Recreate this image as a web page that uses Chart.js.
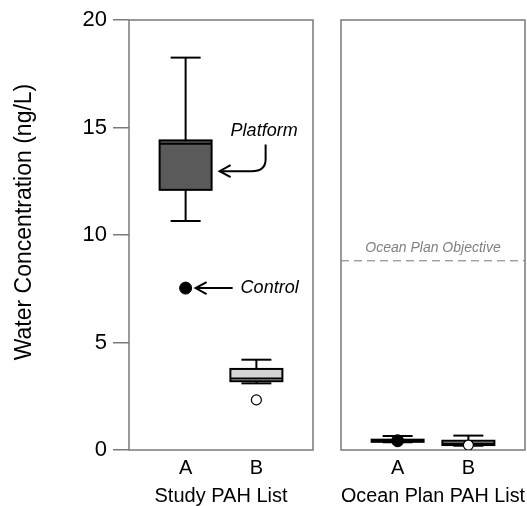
<!DOCTYPE html>
<html lang="en">
<head>
<meta charset="UTF-8">
<title>Water Concentration</title>
<script src="https://cdn.jsdelivr.net/npm/chart.js@4.4.0/dist/chart.umd.min.js"></script>
<style>
    body { margin: 0; background: #fff; }
    #marco { position: relative; width: 527px; height: 506px; }
    canvas { position: absolute; top: 0; }
    #izq { left: 0; }
    #der { left: 320px; }
</style>
</head>
<body>
<div id="marco">
    <canvas id="izq" width="320" height="506"></canvas>
    <canvas id="der" width="207" height="506"></canvas>
</div>
<script>
    // datos
    const categorias = ['A', 'B'];
    const titulosX = ['Study PAH List', 'Ocean Plan PAH List'];
    const tituloY = 'Water Concentration (ng/L)';
    const ticksY = [0, 5, 10, 15, 20];
    // [bigote inf, q1, mediana, q3, bigote sup]
    const cajasEstudio = [[10.65, 12.1, 14.25, 14.4, 18.25], [3.1, 3.2, 3.33, 3.77, 4.2]];
    const controlEstudio = [7.53, 2.33];
    const cajasOceano = [[0.36, 0.38, 0.43, 0.48, 0.65], [0.2, 0.23, 0.3, 0.43, 0.67]];
    const controlOceano = [0.43, 0.23];
    const objetivoOceano = 8.8;

    const fuente = "'Liberation Sans', Arial, Helvetica, sans-serif";
    const rellenos = ['#5a5a5a', '#d4d4d4'];

    function linea(ctx, x1, y1, x2, y2) {
        ctx.beginPath();
        ctx.moveTo(x1, y1);
        ctx.lineTo(x2, y2);
        ctx.stroke();
    }

    function flecha(ctx, x, y) {
        // punta abierta mirando a la izquierda
        ctx.beginPath();
        ctx.moveTo(x + 11, y - 6);
        ctx.lineTo(x, y);
        ctx.lineTo(x + 11, y + 6);
        ctx.stroke();
    }

    function dibujarCajas(chart, cajas) {
        const ctx = chart.ctx;
        const sx = chart.scales.x, sy = chart.scales.y;
        ctx.save();
        ctx.strokeStyle = '#000';
        ctx.lineWidth = 2;
        cajas.forEach((caja, i) => {
            const cx = sx.getPixelForValue(i + 1);
            const [bajo, q1, med, q3, alto] = caja.map(v => sy.getPixelForValue(v));
            linea(ctx, cx, alto, cx, q3);
            linea(ctx, cx, bajo, cx, q1);
            linea(ctx, cx - 15, alto, cx + 15, alto);
            linea(ctx, cx - 15, bajo, cx + 15, bajo);
            ctx.fillStyle = rellenos[i];
            ctx.fillRect(cx - 26, q3, 52, q1 - q3);
            ctx.strokeRect(cx - 26, q3, 52, q1 - q3);
            linea(ctx, cx - 26, med, cx + 26, med);
        });
        ctx.restore();
    }

    function dibujarMarco(chart) {
        const {ctx, chartArea: a} = chart;
        ctx.save();
        ctx.strokeStyle = '#7a7a7a';
        ctx.lineWidth = 1.5;
        ctx.strokeRect(a.left, a.top, a.right - a.left, a.bottom - a.top);
        ctx.restore();
    }

    const pluginIzq = {
        id: 'cajasIzq',
        beforeDatasetsDraw(chart) {
            dibujarMarco(chart);
            dibujarCajas(chart, cajasEstudio);
        },
        afterDraw(chart) {
            const {ctx, chartArea: a} = chart;
            const sx = chart.scales.x, sy = chart.scales.y;
            ctx.save();
            // titulo del eje y
            ctx.translate(25, (a.top + a.bottom) / 2 - 13);
            ctx.rotate(-Math.PI / 2);
            ctx.font = '23px ' + fuente;
            ctx.fillStyle = '#000';
            ctx.textAlign = 'center';
            ctx.textBaseline = 'middle';
            ctx.fillText(tituloY, 0, 0);
            ctx.restore();

            ctx.save();
            ctx.strokeStyle = '#000';
            ctx.lineWidth = 2;
            ctx.fillStyle = '#000';
            ctx.font = 'italic 18px ' + fuente;
            ctx.textBaseline = 'middle';
            // Platform
            const xa = sx.getPixelForValue(1);
            const yq3 = sy.getPixelForValue(cajasEstudio[0][3]);
            const yq1 = sy.getPixelForValue(cajasEstudio[0][1]);
            const yp = yq3 - 9;
            ctx.fillText('Platform', xa + 45, yp);
            const xc = xa + 80;
            const yf = (yq3 + yq1) / 2 + 6;
            ctx.beginPath();
            ctx.moveTo(xc, yp + 13);
            ctx.lineTo(xc, yf - 12);
            ctx.quadraticCurveTo(xc, yf, xc - 14, yf);
            ctx.lineTo(xa + 35, yf);
            ctx.stroke();
            flecha(ctx, xa + 34, yf);
            // Control
            const yc = sy.getPixelForValue(controlEstudio[0]);
            linea(ctx, xa + 11, yc, xa + 47, yc);
            flecha(ctx, xa + 10, yc);
            ctx.fillText('Control', xa + 55, yc);
            ctx.restore();
        }
    };

    const pluginDer = {
        id: 'cajasDer',
        beforeDatasetsDraw(chart) {
            const {ctx, chartArea: a} = chart;
            const y = chart.scales.y.getPixelForValue(objetivoOceano);
            ctx.save();
            ctx.strokeStyle = '#777';
            ctx.lineWidth = 1;
            ctx.setLineDash([8, 5]);
            linea(ctx, a.left, y, a.right, y);
            ctx.setLineDash([]);
            ctx.fillStyle = '#808080';
            ctx.font = 'italic 14px ' + fuente;
            ctx.textAlign = 'center';
            ctx.textBaseline = 'bottom';
            ctx.fillText('Ocean Plan Objective', (a.left + a.right) / 2, y - 6);
            ctx.restore();
            dibujarMarco(chart);
            dibujarCajas(chart, cajasOceano);
        }
    };

    function puntos(control) {
        return [
            {
                data: [{x: 1, y: control[0]}],
                pointRadius: 6,
                pointBackgroundColor: '#000',
                pointBorderColor: '#000',
                pointBorderWidth: 1,
            },
            {
                data: [{x: 2, y: control[1]}],
                pointRadius: 5,
                pointBackgroundColor: '#fff',
                pointBorderColor: '#000',
                pointBorderWidth: 1.2,
            },
        ];
    }

    function ejeX(titulo) {
        return {
            type: 'linear',
            min: 0.2,
            max: 2.8,
            afterBuildTicks: (s) => { s.ticks = categorias.map((c, i) => ({value: i + 1})); },
            ticks: {
                callback: (v) => categorias[v - 1],
                font: {size: 20, family: fuente},
                color: '#000',
                padding: 6,
                maxRotation: 0,
            },
            grid: {display: false, drawTicks: false},
            border: {display: false},
            title: {
                display: true,
                text: titulo,
                font: {size: 20, family: fuente, lineHeight: 1},
                color: '#000',
                padding: 0,
            },
            afterFit: (s) => { s.height = 56; },
        };
    }

    function ejeY(visible) {
        return {
            display: visible,
            min: 0,
            max: 20,
            afterBuildTicks: (s) => { s.ticks = ticksY.map(v => ({value: v})); },
            ticks: {
                font: {size: 22, family: fuente},
                color: '#000',
                padding: 6,
            },
            grid: {
                drawOnChartArea: false,
                drawTicks: true,
                tickLength: 16,
                color: '#7a7a7a',
                lineWidth: 1.5,
            },
            border: {display: false},
            afterFit: (s) => { s.width = visible ? 129 : 0; },
        };
    }

    function opciones(titulo, visibleY, padding) {
        return {
            responsive: false,
            animation: false,
            layout: {padding: padding, autoPadding: false},
            plugins: {legend: {display: false}, tooltip: {enabled: false}},
            scales: {x: ejeX(titulo), y: ejeY(visibleY)},
        };
    }

    new Chart(document.getElementById('izq').getContext('2d'), {
        type: 'scatter',
        data: {datasets: puntos(controlEstudio)},
        options: opciones(titulosX[0], true, {top: 20, right: 7, bottom: 0, left: 0}),
        plugins: [pluginIzq],
    });

    new Chart(document.getElementById('der').getContext('2d'), {
        type: 'scatter',
        data: {datasets: puntos(controlOceano)},
        options: opciones(titulosX[1], false, {top: 20, right: 2, bottom: 0, left: 21}),
        plugins: [pluginDer],
    });
</script>
</body>
</html>
